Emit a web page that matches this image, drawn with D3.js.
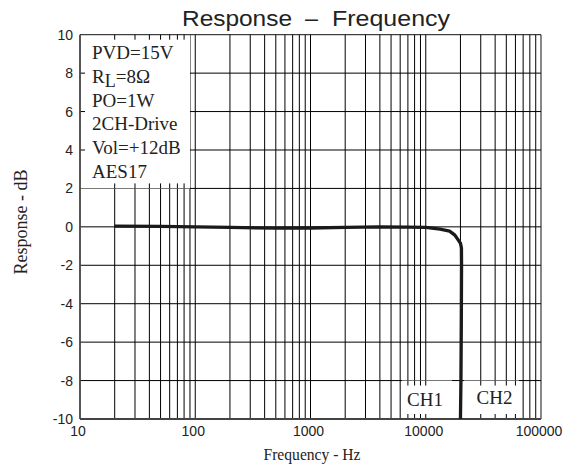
<!DOCTYPE html>
<html><head><meta charset="utf-8">
<script src="https://cdn.jsdelivr.net/npm/d3@7/dist/d3.min.js"></script>
<style>body{margin:0;background:#fff}svg{display:block}</style>
</head><body><svg id="c" width="567" height="468"></svg>
<script>
// ---- data ----
const freqTicks = [10, 100, 1000, 10000, 100000];
const freqTickLabels = ["10", "100", "1000", "10000", "100000"];
const dbTicks = [10, 8, 6, 4, 2, 0, -2, -4, -6, -8, -10];
const dbTickLabels = ["10", "8", "6", "4", "2", "0", "-2", "-4", "-6", "-8", "-10"];
const respFreq = [20, 50, 100, 200, 500, 1000, 2000, 4000, 7000, 10000, 13300, 16100, 17900, 19100, 20000, 20400, 20450, 20350, 20200, 20000];
const respDb   = [0.04, 0.02, 0.0, -0.03, -0.07, -0.06, -0.03, 0.0, -0.01, -0.03, -0.12, -0.22, -0.43, -0.68, -0.85, -1.1, -2, -5, -8, -10];
const legendLines = ["PVD=15V", "RL=8Ω", "PO=1W", "2CH-Drive", "Vol=+12dB", "AES17"];
const chLabels = ["CH1", "CH2"];
const titleParts = ["Response", "–", "Frequency"];
const xTitle = "Frequency - Hz";
const yTitle = "Response - dB";

// ---- layout ----
const svg = d3.select("#c");
const L = 80, R = 541, T = 34.7, B = 419;
const x = d3.scaleLog().domain([10, 100000]).range([L, R]);
const y = d3.scaleLinear().domain([-10, 10]).range([B, T]);
const gridCol = "#000";

const gridF = [];
for (let d = 10; d < 100000; d *= 10) for (let k = 1; k <= 9; k++) gridF.push(d * k);
gridF.push(100000);

const g = svg.append("g");
g.selectAll("line.v").data(gridF.filter(f => f > 10 && f < 100000)).enter().append("line")
  .attr("x1", d => x(d)).attr("x2", d => x(d)).attr("y1", T).attr("y2", B)
  .attr("stroke", gridCol).attr("stroke-width", 1);
g.selectAll("line.h").data(dbTicks.filter(v => v > -10 && v < 10)).enter().append("line")
  .attr("x1", L).attr("x2", R).attr("y1", d => y(d)).attr("y2", d => y(d))
  .attr("stroke", gridCol).attr("stroke-width", 1);

function box(x0, x1, y0, y1) {
  g.append("rect").attr("x", x0).attr("y", y0).attr("width", x1 - x0).attr("height", y1 - y0).attr("fill", "#fff");
  const inside = gridF.filter(f => x(f) > x0 + 0.5 && x(f) < x1 - 0.5);
  inside.forEach(f => {
    g.append("line").attr("x1", x(f)).attr("x2", x(f)).attr("y1", y0).attr("y2", y0 + 5).attr("stroke", gridCol);
    g.append("line").attr("x1", x(f)).attr("x2", x(f)).attr("y1", y1 - 5).attr("y2", y1).attr("stroke", gridCol);
  });
  dbTicks.filter(v => y(v) > y0 + 0.5 && y(v) < y1 - 0.5).forEach(v => {
    g.append("line").attr("x1", x0).attr("x2", x0 + 5).attr("y1", y(v)).attr("y2", y(v)).attr("stroke", gridCol);
  });
}
box(L, 190, T, y(2));
box(402, 452, y(-8), B);
box(464, 519, y(-8), B);

// frame
svg.append("line").attr("x1", L).attr("x2", R).attr("y1", T).attr("y2", T).attr("stroke", "#111");
svg.append("line").attr("x1", R).attr("x2", R).attr("y1", T).attr("y2", B).attr("stroke", "#111");
svg.append("line").attr("x1", L).attr("x2", L).attr("y1", T).attr("y2", B).attr("stroke", "#444").attr("stroke-width", 1.8);
svg.append("line").attr("x1", L).attr("x2", R).attr("y1", B).attr("y2", B).attr("stroke", "#444").attr("stroke-width", 1.8);

// curve
const pts = respFreq.map((f, i) => [f, respDb[i]]);
svg.append("path").datum(pts)
  .attr("d", d3.line().x(d => x(d[0])).y(d => y(d[1])).curve(d3.curveLinear))
  .attr("fill", "none").attr("stroke", "#1a1a1a").attr("stroke-width", 3.3)
  .attr("stroke-linejoin", "round").attr("stroke-linecap", "butt");

// tick labels
const sans = "Liberation Sans, Arial, Helvetica, sans-serif";
const serif = "Liberation Serif, Times New Roman, serif";
svg.selectAll("text.yt").data(dbTicks).enter().append("text")
  .attr("x", 73).attr("y", d => y(d) + 5).attr("text-anchor", "end")
  .attr("font-family", sans).attr("font-size", 14).attr("fill", "#222")
  .text((d, i) => dbTickLabels[i]);
svg.selectAll("text.xt").data(freqTicks).enter().append("text")
  .attr("x", d => x(d) - 2).attr("y", 436).attr("text-anchor", "middle")
  .attr("font-family", sans).attr("font-size", 14).attr("fill", "#222")
  .text((d, i) => freqTickLabels[i]);

// title
const tpos = [[182, 110], [305, 13], [332, 118]];
titleParts.forEach((t, i) => {
  svg.append("text").attr("x", tpos[i][0]).attr("y", 26)
    .attr("font-family", sans).attr("font-size", 22).attr("fill", "#222")
    .attr("textLength", tpos[i][1]).attr("lengthAdjust", "spacingAndGlyphs").text(t);
});

// axis titles
svg.append("text").attr("x", 312).attr("y", 460).attr("text-anchor", "middle")
  .attr("font-family", serif).attr("font-size", 17).attr("fill", "#222")
  .attr("textLength", 97).attr("lengthAdjust", "spacingAndGlyphs").text(xTitle);
svg.append("text").attr("transform", "translate(27,222) rotate(-90)").attr("text-anchor", "middle")
  .attr("font-family", serif).attr("font-size", 19).attr("fill", "#222")
  .attr("textLength", 105).attr("lengthAdjust", "spacingAndGlyphs").text(yTitle);

// legend text
legendLines.forEach((t, i) => {
  const tx = svg.append("text").attr("x", 92).attr("y", 58.7 + i * 23.9)
    .attr("font-family", serif).attr("font-size", 19).attr("fill", "#222");
  if (t.startsWith("RL")) {
    tx.append("tspan").text("R");
    tx.append("tspan").attr("dy", 4).attr("font-size", 18).text("L");
    tx.append("tspan").attr("dy", -4).text(t.slice(2));
  } else tx.text(t);
});

// CH labels
svg.append("text").attr("x", 425).attr("y", 406).attr("text-anchor", "middle")
  .attr("font-family", serif).attr("font-size", 19).attr("fill", "#222").text(chLabels[0]);
svg.append("text").attr("x", 494.5).attr("y", 404).attr("text-anchor", "middle")
  .attr("font-family", serif).attr("font-size", 19).attr("fill", "#222").text(chLabels[1]);
</script></body></html>
